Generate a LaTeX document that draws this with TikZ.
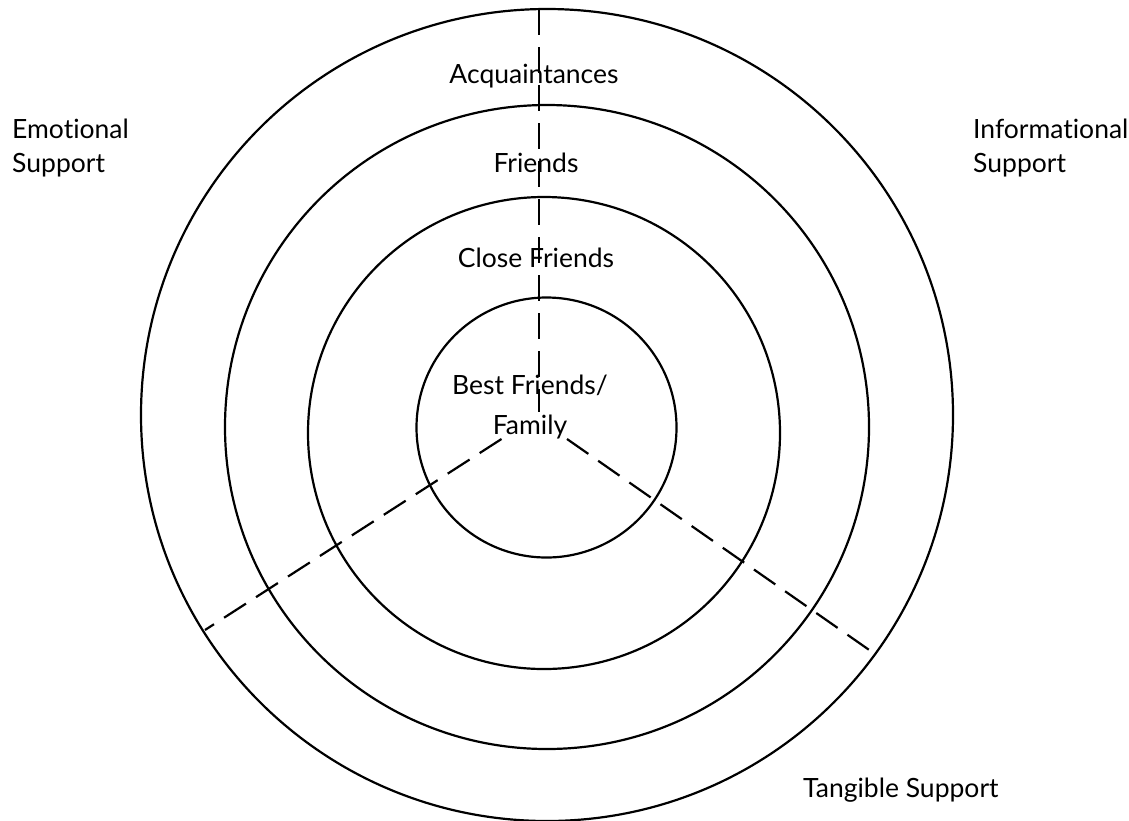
\documentclass[tikz,border=0pt]{standalone}
\usepackage{fontspec}
\setmainfont{Lato}[Ligatures=NoCommon]
\begin{document}
\begin{tikzpicture}[x=1pt,y=-1pt,
  ring/.style={circle, draw, line width=2.2pt, inner sep=0pt},
  divider/.style={line width=2.2pt, dash pattern=on 26pt off 12pt},
  lbl/.style={font=\fontsize{26.5}{34}\selectfont, inner sep=0pt},
  lblc/.style={lbl, anchor=base, align=center},
  lbll/.style={lbl, anchor=base west, align=left}]
\useasboundingbox (0,0) rectangle (1129,820);
% rings
\node[ring, minimum size=812pt] (acq) at (547,415) {};
\node[ring, minimum size=644pt] (fr) at (547,427) {};
\node[ring, minimum size=472pt] (cf) at (544,433) {};
\node[ring, minimum size=260pt] (bf) at (546.5,427.5) {};
% dividers
\coordinate (vtop) at (539,9);
\coordinate (vbot) at (539,412);
\coordinate (ls) at (501.5,439);
\coordinate (le) at (205,630);
\coordinate (rs) at (567,439);
\coordinate (re) at (875,654);
\draw[divider] (vtop) -- (vbot);
\draw[divider] (ls) -- (le);
\draw[divider] (rs) -- (re);
% labels
\node[lblc] (tacq) at (534,83) {Acquaintances};
\node[lblc] (tfr) at (536,172) {Friends};
\node[lblc] (tcf) at (536,267) {Close Friends};
\node[lblc, font=\fontsize{26.5}{40}\selectfont] (tbf) at (530,434) {Best Friends/\\Family};
\node[lbll] (emo) at (12,172) {Emotional\\Support};
\node[lbll] (inf) at (973,172) {Informational\\Support};
\node[lbll] (tan) at (803,797) {Tangible Support};
\end{tikzpicture}
\end{document}
